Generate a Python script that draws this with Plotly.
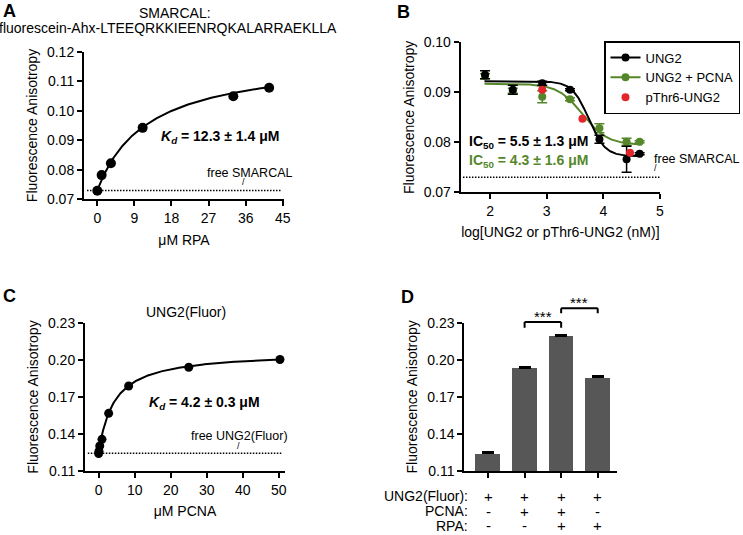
import numpy as np
import plotly.graph_objects as go

FONT = "Liberation Sans, Arial, Helvetica, sans-serif"
BLACK = "#000000"
GREEN = "#55872a"
RED = "#e3262b"
GREY = "#575757"

# ---------------- Panel A data ----------------
rpa_um = [0, 1.05, 3.3, 11.0, 33.0, 41.7]
aniso_A = [0.0729, 0.0782, 0.0822, 0.0942, 0.1049, 0.1078]
fitA_kd, fitA_bmax, fitA_base = 12.3, 0.0452, 0.0731
freeA = 0.0730
freeA_x = [-2.5, 44.6]
tickA_x = [0, 9, 18, 27, 36, 45]

# ---------------- Panel B data ----------------
logc = [1.91, 2.40, 2.92, 3.41, 3.93, 4.41, 4.64]
ung2 = [0.0935, 0.0905, 0.0918, 0.0905, 0.0806, 0.0766, 0.0777]
ung2_err = [0.0008, 0.0009, 0.0004, 0.0002, 0.0008, 0.0026, 0.0002]
ung2_pcna = [0.0932, 0.0903, 0.0891, 0.0886, 0.0828, 0.0801, 0.0801]
ung2_pcna_err = [0.0005, 0.0005, 0.0012, 0.0003, 0.0009, 0.0007, 0.0002]
pthr6_x = [2.92, 3.63, 4.47]
pthr6 = [0.0905, 0.0847, 0.0779]
fitB_black = dict(top=0.0922, bottom=0.0772, logic50=np.log10(5500), hill=3.0)
fitB_green = dict(top=0.0917, bottom=0.0795, logic50=np.log10(4300), hill=2.0)
fitB_x = [1.9, 4.68]
freeB = 0.0730
freeB_x = [1.52, 5.0]
tickB_x = [2, 3, 4, 5]

# ---------------- Panel C data ----------------
pcna_um = [0, 0.1, 0.31, 0.93, 2.78, 8.33, 25.0, 50.3]
aniso_C = [0.1243, 0.1262, 0.1305, 0.1358, 0.1568, 0.1789, 0.1940, 0.2003]
fitC_kd, fitC_bmax, fitC_base = 4.2, 0.0824, 0.1243
freeC = 0.1245
freeC_x = [-3.0, 50.8]
tickC_x = [0, 10, 20, 30, 40, 50]
tickCD_y = [0.11, 0.14, 0.17, 0.20, 0.23]

# ---------------- Panel D data ----------------
bar_pos = [0, 1, 2, 3]
bar_vals = [0.1243, 0.1933, 0.2192, 0.1858]
bar_err = [0.0012, 0.0009, 0.0009, 0.0009]
row_labels = ["UNG2(Fluor):", "PCNA:", "RPA:"]
row_ung2 = ["+", "+", "+", "+"]
row_pcna = ["-", "+", "+", "-"]
row_rpa = ["-", "-", "+", "+"]
brackets = [  # (from bar, to bar, top value, leg value)
    (1, 2, 0.2306, 0.2260),
    (2, 3, 0.2417, 0.2376),
]

# ---------------- layout geometry ----------------
W, H = 743, 535


def px(x):
    return x / W


def py(y):
    return 1 - y / H


domA = dict(x=[px(84), px(284)], y=[py(199.3), py(51.7)])
domB = dict(x=[px(460.7), px(660)], y=[py(192.3), py(42.3)])
domC = dict(x=[px(85), px(285)], y=[py(471.3), py(322.7)])
domD = dict(x=[px(464.3), px(616.7)], y=[py(471), py(322.7)])
rangeA_x, rangeA_y = [-3.23, 45.3], [0.07, 0.12]
rangeB_x, rangeB_y = [1.48, 5.0], [0.07, 0.10]
rangeC_x, rangeC_y = [-3.78, 51.7], [0.11, 0.23]
rangeD_x, rangeD_y = [-0.65, 3.52], [0.11, 0.23]


def d_paper(v):
    f = (v - rangeD_y[0]) / (rangeD_y[1] - rangeD_y[0])
    return domD["y"][0] + f * (domD["y"][1] - domD["y"][0])


fig = go.Figure()

# Panel A
xa = np.linspace(0, max(rpa_um), 200)
fig.add_trace(go.Scatter(x=xa, y=fitA_base + fitA_bmax * xa / (fitA_kd + xa), mode="lines",
                         line=dict(color=BLACK, width=2), xaxis="x", yaxis="y", showlegend=False))
fig.add_trace(go.Scatter(x=rpa_um, y=aniso_A, mode="markers", marker=dict(color=BLACK, size=10),
                         xaxis="x", yaxis="y", showlegend=False))
fig.add_trace(go.Scatter(x=freeA_x, y=[freeA, freeA], mode="lines",
                         line=dict(color=BLACK, width=1.5, dash="1.5px,1.5px"),
                         xaxis="x", yaxis="y", showlegend=False))

# Panel B


def sig(p, x):
    return p["bottom"] + (p["top"] - p["bottom"]) / (1 + 10 ** ((x - p["logic50"]) * p["hill"]))


xb = np.linspace(fitB_x[0], fitB_x[1], 200)
fig.add_trace(go.Scatter(x=freeB_x, y=[freeB, freeB], mode="lines",
                         line=dict(color=BLACK, width=1.5, dash="1.5px,1.5px"),
                         xaxis="x2", yaxis="y2", showlegend=False))
fig.add_trace(go.Scatter(x=xb, y=sig(fitB_green, xb), mode="lines", line=dict(color=GREEN, width=2),
                         xaxis="x2", yaxis="y2", showlegend=False))
fig.add_trace(go.Scatter(x=logc, y=ung2_pcna, mode="markers", marker=dict(color=GREEN, size=8),
                         error_y=dict(type="data", array=ung2_pcna_err, color=GREEN, thickness=1.5, width=5),
                         xaxis="x2", yaxis="y2", showlegend=False))
fig.add_trace(go.Scatter(x=xb, y=sig(fitB_black, xb), mode="lines", line=dict(color=BLACK, width=2),
                         xaxis="x2", yaxis="y2", showlegend=False))
fig.add_trace(go.Scatter(x=logc, y=ung2, mode="markers", marker=dict(color=BLACK, size=8),
                         error_y=dict(type="data", array=ung2_err, color=BLACK, thickness=1.5, width=5),
                         xaxis="x2", yaxis="y2", showlegend=False))
fig.add_trace(go.Scatter(x=pthr6_x, y=pthr6, mode="markers", marker=dict(color=RED, size=8),
                         xaxis="x2", yaxis="y2", showlegend=False))
# legend entries
for name, col, mode, rank in [("UNG2", BLACK, "lines+markers", 1),
                              ("UNG2 + PCNA", GREEN, "lines+markers", 2),
                              ("pThr6-UNG2", RED, "markers", 3)]:
    fig.add_trace(go.Scatter(x=[None], y=[None], mode=mode, name=name, legendrank=rank,
                             line=dict(color=col, width=2), marker=dict(color=col, size=8),
                             xaxis="x2", yaxis="y2"))

# Panel C
xc = np.linspace(0, max(pcna_um), 200)
fig.add_trace(go.Scatter(x=freeC_x, y=[freeC, freeC], mode="lines",
                         line=dict(color=BLACK, width=1.5, dash="1.5px,1.5px"),
                         xaxis="x3", yaxis="y3", showlegend=False))
fig.add_trace(go.Scatter(x=xc, y=fitC_base + fitC_bmax * xc / (fitC_kd + xc), mode="lines",
                         line=dict(color=BLACK, width=2), xaxis="x3", yaxis="y3", showlegend=False))
fig.add_trace(go.Scatter(x=pcna_um, y=aniso_C, mode="markers", marker=dict(color=BLACK, size=9),
                         xaxis="x3", yaxis="y3", showlegend=False))

# Panel D
fig.add_trace(go.Bar(x=bar_pos, y=[v - rangeD_y[0] for v in bar_vals], base=rangeD_y[0],
                     width=0.675, marker=dict(color=GREY, line=dict(width=0)),
                     error_y=dict(type="data", array=bar_err, arrayminus=[0] * 4, color=BLACK,
                                  thickness=2, width=6),
                     xaxis="x4", yaxis="y4", showlegend=False))

tickfont = dict(family=FONT, size=14, color=BLACK)
titlefont = dict(family=FONT, size=14, color=BLACK)
axcommon = dict(showline=True, linecolor=BLACK, linewidth=2, ticks="outside", ticklen=5,
                tickwidth=2, tickcolor=BLACK, showgrid=False, zeroline=False, tickfont=tickfont,
                automargin=False)

fig.update_layout(
    width=W, height=H, margin=dict(l=0, r=0, t=0, b=0),
    plot_bgcolor="white", paper_bgcolor="white", font=dict(family=FONT, color=BLACK),
    bargap=0,
    xaxis=dict(axcommon, domain=domA["x"], range=rangeA_x, tickvals=tickA_x, anchor="y",
               title=dict(text="μM RPA", font=titlefont, standoff=10)),
    yaxis=dict(axcommon, domain=domA["y"], range=rangeA_y, dtick=0.01, tickformat=".2f", anchor="x",
               title=dict(text="Fluorescence Anisotropy", font=titlefont, standoff=6)),
    xaxis2=dict(axcommon, domain=domB["x"], range=rangeB_x, tickvals=tickB_x, anchor="y2",
                title=dict(text="log[UNG2 or pThr6-UNG2 (nM)]", font=titlefont, standoff=9)),
    yaxis2=dict(axcommon, domain=domB["y"], range=rangeB_y, dtick=0.01, tickformat=".2f", anchor="x2",
                title=dict(text="Fluorescence Anisotropy", font=titlefont, standoff=6)),
    xaxis3=dict(axcommon, domain=domC["x"], range=rangeC_x, tickvals=tickC_x, anchor="y3",
                title=dict(text="μM PCNA", font=titlefont, standoff=9)),
    yaxis3=dict(axcommon, domain=domC["y"], range=rangeC_y, tickvals=tickCD_y, tickformat=".2f",
                anchor="x3", title=dict(text="Fluorescence Anisotropy", font=titlefont, standoff=6)),
    xaxis4=dict(axcommon, domain=domD["x"], range=rangeD_x, tickvals=bar_pos, showticklabels=False,
                anchor="y4"),
    yaxis4=dict(axcommon, domain=domD["y"], range=rangeD_y, tickvals=tickCD_y, tickformat=".2f",
                anchor="x4", title=dict(text="Fluorescence Anisotropy", font=titlefont, standoff=6)),
    legend=dict(x=px(604), y=py(41), xanchor="left", yanchor="top", bordercolor=BLACK,
                borderwidth=1.5, bgcolor="white", font=dict(family=FONT, size=13, color=BLACK),
                tracegroupgap=0, itemwidth=30),
)

ann = []
lab = dict(family=FONT, size=18, color=BLACK)
txt = dict(family=FONT, size=14, color=BLACK)
small = dict(family=FONT, size=12.5, color=BLACK)
slash = dict(family=FONT, size=9, color=BLACK)


def pa(text, x, y, font, **kw):
    d = dict(text=text, x=px(x), y=py(y), xref="paper", yref="paper", showarrow=False,
             font=font, xanchor="center", yanchor="middle")
    d.update(kw)
    return d


def da(text, x, y, xr, yr, font, **kw):
    d = dict(text=text, x=x, y=y, xref=xr, yref=yr, showarrow=False, font=font,
             xanchor="center", yanchor="middle")
    d.update(kw)
    return d


for t, x, y in [("A", 9, 11), ("B", 403, 12), ("C", 9, 296), ("D", 407, 297)]:
    ann.append(pa("<b>%s</b>" % t, x, y, lab))

ann += [
    pa("SMARCAL:", 175, 13, txt),
    pa("fluorescein-Ahx-LTEEQRKKIEENRQKALARRAEKLLA", 168, 28, txt),
    pa("UNG2(Fluor)", 185.7, 311.7, txt),
    da("<b><i>K<sub>d</sub></i> = 12.3 ± 1.4 μM</b>", 29.8, 0.0910, "x", "y", txt),
    da("<b><i>K<sub>d</sub></i> = 4.2 ± 0.3 μM</b>", 29.3, 0.1649, "x3", "y3", txt),
    da("free SMARCAL", 37.0, 0.0790, "x", "y", small),
    da("/", 35.4, 0.0759, "x", "y", slash),
    da("free UNG2(Fluor)", 39.1, 0.1388, "x3", "y3", small),
    da("/", 38.7, 0.1307, "x3", "y3", slash),
    pa("free SMARCAL", 696, 159.3, small),
    pa("/", 655, 168, slash),
    da("<b>IC<sub>50</sub> = 5.5 ± 1.3 μM</b>", 1.586, 0.0801, "x2", "y2", txt, xanchor="left"),
    da("<b>IC<sub>50</sub> = 4.3 ± 1.6 μM</b>", 1.586, 0.0763, "x2", "y2",
       dict(family=FONT, size=14, color=GREEN), xanchor="left"),
]
# Panel D condition table
rows_y = [496, 511, 525.5]
for lbl, ry, signs in zip(row_labels, rows_y, [row_ung2, row_pcna, row_rpa]):
    ann.append(pa(lbl, 470, ry, txt, xanchor="right"))
    for p, s in zip(bar_pos, signs):
        ann.append(da(s, p, py(ry), "x4", "paper", dict(family=FONT, size=15, color=BLACK)))

shapes = []
for b0, b1, top, leg in brackets:
    for (x0, y0, x1, y1) in [(b0, leg, b0, top), (b0, top, b1, top), (b1, top, b1, leg)]:
        shapes.append(dict(type="line", xref="x4", yref="paper", x0=x0, x1=x1, y0=d_paper(y0),
                           y1=d_paper(y1), line=dict(color=BLACK, width=2)))
    ann.append(da("***", (b0 + b1) / 2, d_paper(top), "x4", "paper",
                  dict(family=FONT, size=15, color=BLACK), yanchor="bottom", yshift=-5))

fig.update_layout(annotations=ann, shapes=shapes)
fig.write_html("out.html", config={"displayModeBar": False},
               post_script="document.body.style.margin='0px';")
